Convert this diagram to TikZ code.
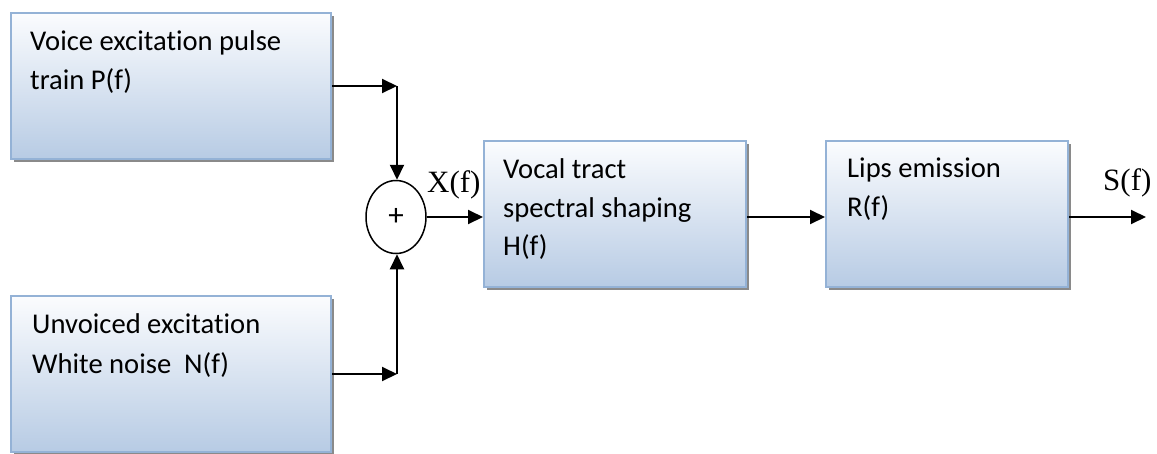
\documentclass[tikz,border=0pt]{standalone}
\usepackage{fontspec}
\setmainfont{Carlito}[Ligatures=CommonOff]
\newfontfamily\serifl{Liberation Serif}
\usetikzlibrary{arrows.meta,shadows,shapes.geometric}
\definecolor{boxtop}{HTML}{FBFCFE}
\definecolor{boxbot}{HTML}{B7CBE4}
\definecolor{boxline}{HTML}{94B2D6}
\definecolor{shad}{HTML}{8A8A8A}
\tikzset{
  blockbox/.style={draw=boxline, line width=2pt, top color=boxtop, bottom color=boxbot,
    minimum width=#1, inner sep=0pt, anchor=north west,
    drop shadow={shadow xshift=3pt, shadow yshift=-3pt, fill=shad, opacity=1}},
  lbl/.style={anchor=base west, inner sep=0pt, font=\fontsize{28.6}{34}\selectfont},
  sig/.style={anchor=base west, inner sep=0pt, font=\serifl\fontsize{31}{36}\selectfont},
  arr/.style={line width=2pt, -{Triangle[length=15pt,width=14pt]}},
  wire/.style={line width=2pt}
}
\begin{document}
\begin{tikzpicture}[x=1pt,y=-1pt]
\useasboundingbox (0,0) rectangle (1157,453);
% boxes
\node[blockbox=320pt, minimum height=146pt] (b1) at (10,12) {};
\node[blockbox=320pt, minimum height=156pt] (b4) at (10,295) {};
\node[blockbox=262pt, minimum height=146pt] (b2) at (483,140) {};
\node[blockbox=242pt, minimum height=146pt] (b3) at (825,140) {};
% texts
\node[lbl] (t1a) at (30,50) {Voice excitation pulse};
\node[lbl] (t1b) at (30,89) {train P(f)};
\node[lbl] (t4a) at (32,333) {Unvoiced excitation};
\node[lbl] (t4b) at (32,373) {White noise\ \ N(f)};
\node[lbl] (t2a) at (503,178) {Vocal tract};
\node[lbl] (t2b) at (503,217) {spectral shaping};
\node[lbl] (t2c) at (503,255) {H(f)};
\node[lbl] (t3a) at (847,177) {Lips emission};
\node[lbl] (t3b) at (847,216) {R(f)};
% summing junction
\node[ellipse, draw, line width=1.5pt, minimum width=60pt, minimum height=73pt, inner sep=0pt,
      font=\fontsize{31}{34}\selectfont] (sum) at (396,217) {+};
% signal labels
\node[sig] (xf) at (427,192) {X(f)};
\node[sig] (sf) at (1103,190) {S(f)};
% connectors
\coordinate (j1) at (397,85);
\coordinate (j4) at (397,373);
\coordinate (out) at (1146,217);
\draw[arr] (b1.east) -- (b1.east -| j1);
\draw[arr] (b1.east -| j1) -- (sum.north -| j1);
\draw[arr] (b4.east) -- (b4.east -| j4);
\draw[arr] (b4.east -| j4) -- (sum.south -| j4);
\draw[arr] (sum.east) -- (b2.west |- sum.east);
\draw[arr] (b2.east |- sum.east) -- (b3.west |- sum.east);
\draw[arr] (b3.east |- sum.east) -- (out);
\end{tikzpicture}
\end{document}
